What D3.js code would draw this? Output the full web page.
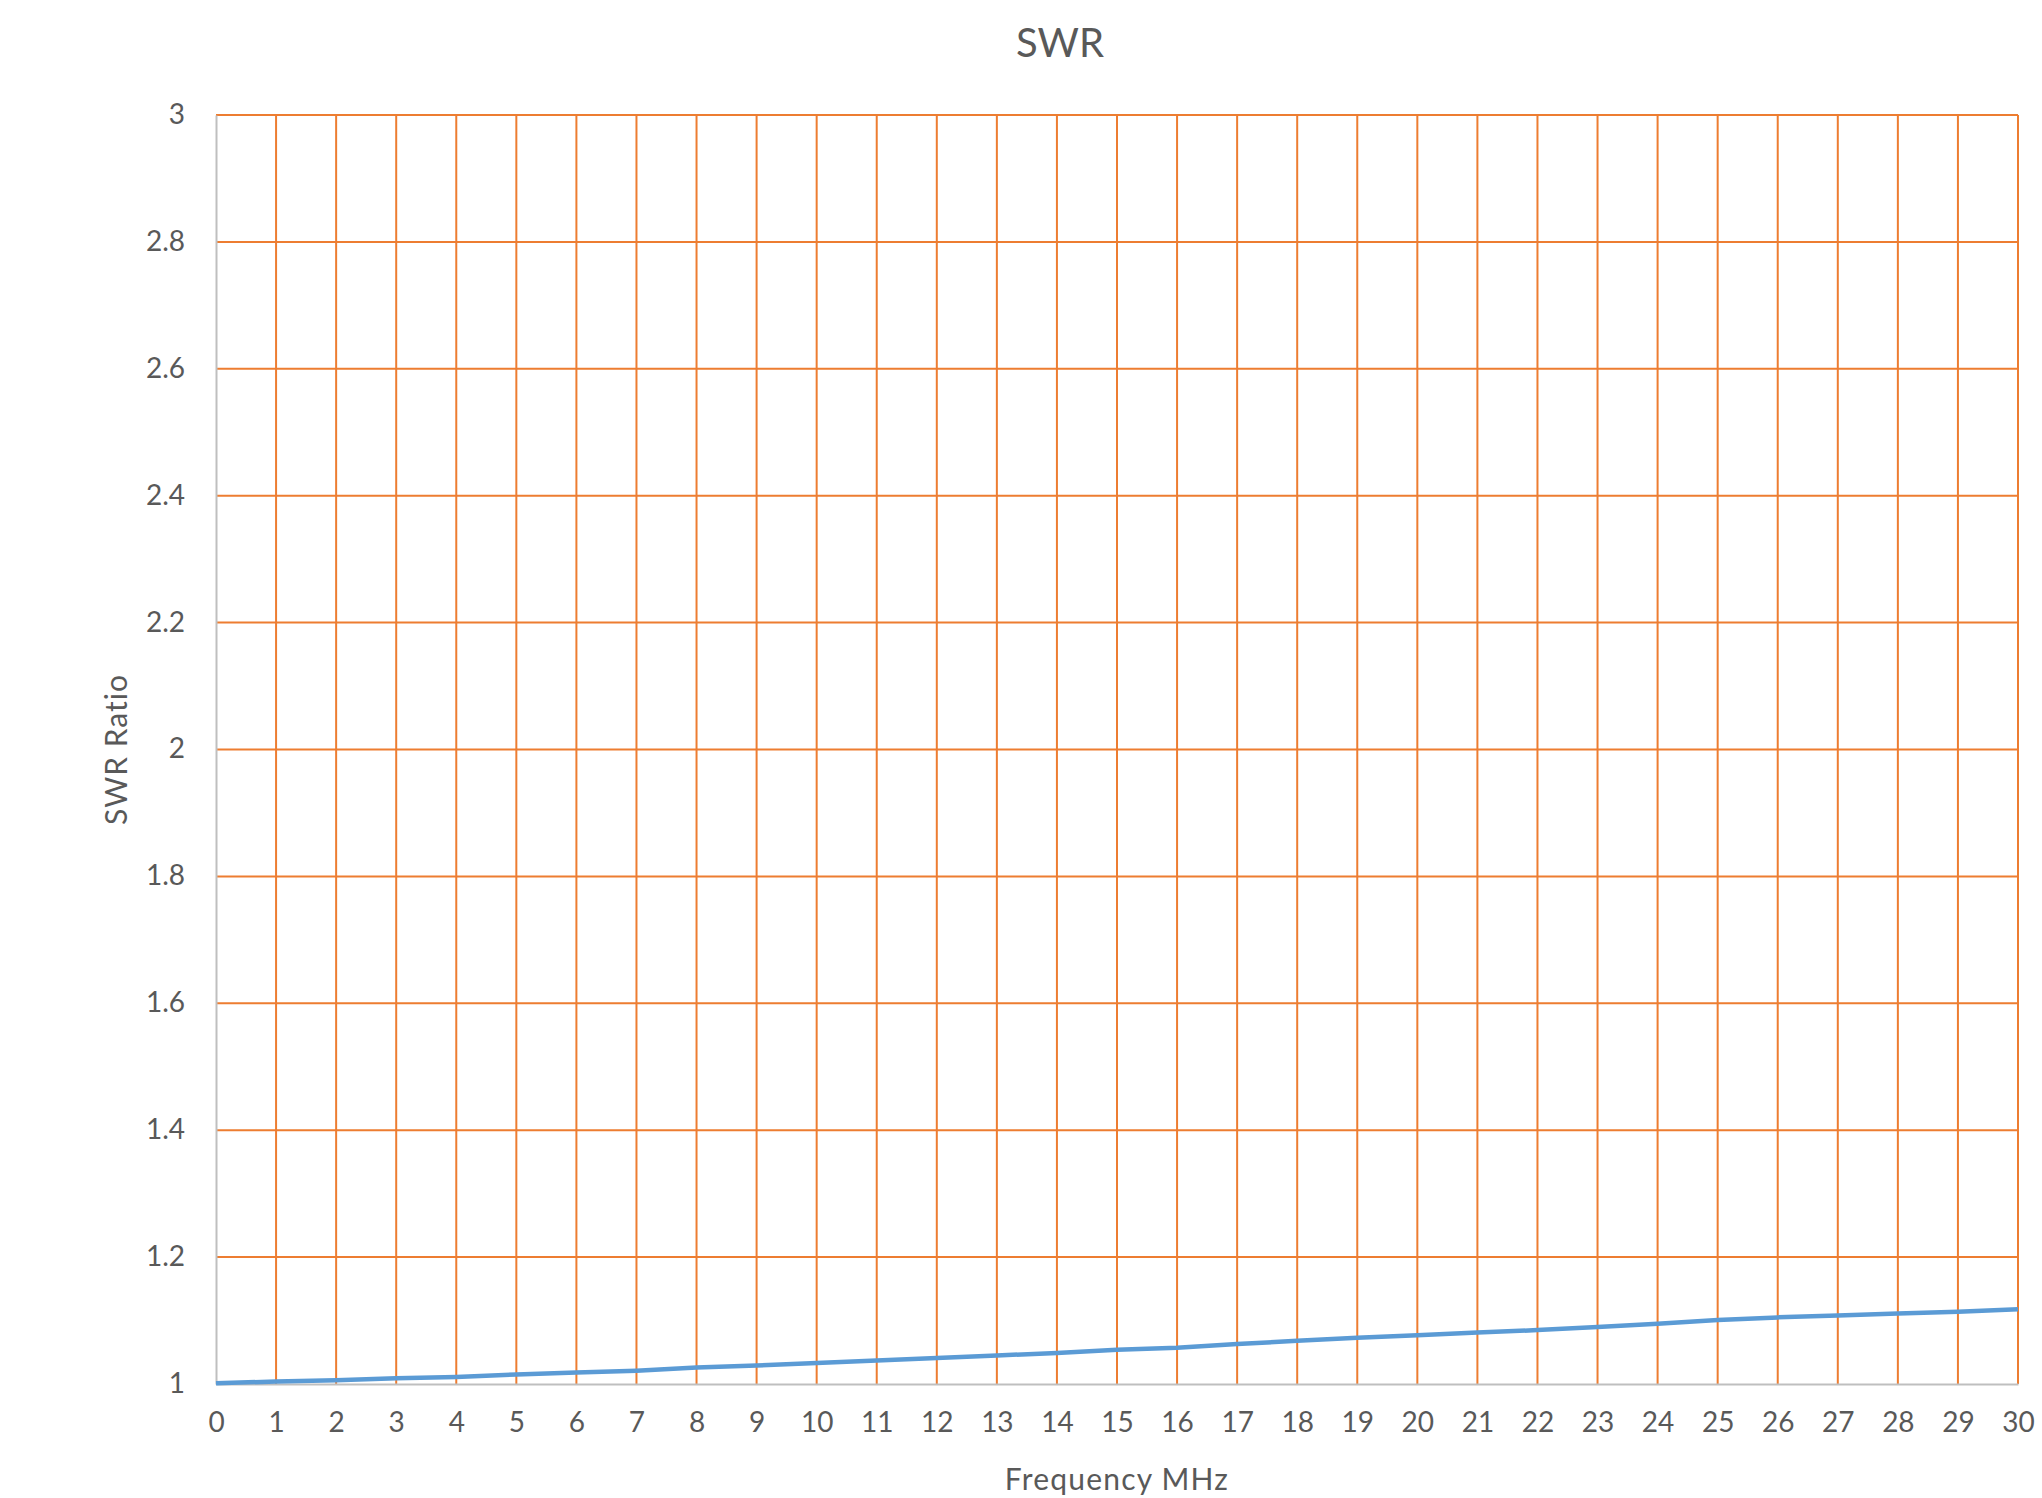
<!DOCTYPE html>
<html>
<head>
<meta charset="utf-8">
<script src="https://cdn.jsdelivr.net/npm/d3@7"></script>
<style>
    body { margin: 0; background: #fff; }
    text { font-family: Lato, "Open Sans", sans-serif; fill: #595959; }
</style>
</head>
<body>
<div id="chart"></div>
<script>
// values
let freqMHz = [0, 1, 2, 3, 4, 5, 6, 7, 8, 9, 10, 11, 12, 13, 14, 15, 16, 17, 18, 19, 20, 21, 22, 23, 24, 25, 26, 27, 28, 29, 30];
let swrRatio = [1.001, 1.004, 1.006, 1.009, 1.011, 1.015, 1.018, 1.021, 1.026, 1.029, 1.033, 1.037, 1.041, 1.045, 1.049, 1.054, 1.057,
    1.063, 1.068, 1.073, 1.077, 1.081, 1.085, 1.090, 1.095, 1.101, 1.105, 1.108, 1.111, 1.114, 1.118];
let xTicks = d3.range(0, 31, 1);
let yTicks = [1, 1.2, 1.4, 1.6, 1.8, 2, 2.2, 2.4, 2.6, 2.8, 3];

let margin = {top: 115, right: 24, bottom: 114, left: 216};
let width = 2042 - margin.left - margin.right;
let height = 1498 - margin.top - margin.bottom;

let svg = d3.select("#chart").append("svg")
    .attr("width", 2042)
    .attr("height", 1498);

let g = svg.append("g")
    .attr("transform", "translate(" + margin.left + "," + margin.top + ")");

let x = d3.scaleLinear().domain([0, 30]).range([0, width]);
let y = d3.scaleLinear().domain([1, 3]).range([height, 0]);

// grid lines
g.selectAll(".hgrid")
    .data(yTicks.filter(d => d > 1))
    .enter()
    .append("line")
    .attr("class", "hgrid")
    .attr("x1", 0).attr("x2", width)
    .attr("y1", d => y(d)).attr("y2", d => y(d))
    .attr("stroke", "#ED7D31")
    .attr("stroke-width", 2);

g.selectAll(".vgrid")
    .data(xTicks.filter(d => d > 0))
    .enter()
    .append("line")
    .attr("class", "vgrid")
    .attr("y1", 0).attr("y2", height)
    .attr("x1", d => x(d)).attr("x2", d => x(d))
    .attr("stroke", "#ED7D31")
    .attr("stroke-width", 2);

// axes
let xAxis = d3.axisBottom(x).tickValues(xTicks).tickSize(0).tickPadding(28).tickFormat(d3.format("d"));
let yAxis = d3.axisLeft(y).tickValues(yTicks).tickSize(0).tickPadding(31).tickFormat(d => d3.format("")(+d.toFixed(1)));

let gx = g.append("g")
    .attr("transform", "translate(0," + height + ")")
    .call(xAxis);
let gy = g.append("g").call(yAxis);

[gx, gy].forEach(function (a) {
    a.select(".domain").attr("stroke", "#BFBFBF").attr("stroke-width", 2);
    a.selectAll("text").style("font-size", "28px").style("fill", "#595959");
});
gy.selectAll("text").attr("dy", "0.3em");

// SWR curve
let line = d3.line()
    .x((d, i) => x(freqMHz[i]))
    .y(d => y(d));

g.append("path")
    .datum(swrRatio)
    .attr("d", line)
    .attr("fill", "none")
    .attr("stroke", "#5B9BD5")
    .attr("stroke-width", 4.5)
    .attr("stroke-linejoin", "round");

// titles
svg.append("text")
    .attr("x", 1060)
    .attr("y", 57)
    .attr("text-anchor", "middle")
    .style("font-size", "40px")
    .text("SWR");

svg.append("text")
    .attr("x", margin.left + width / 2)
    .attr("y", 1490)
    .attr("text-anchor", "middle")
    .style("font-size", "30px")
    .style("letter-spacing", "1.2px")
    .text("Frequency MHz");

svg.append("text")
    .attr("transform", "translate(127," + (margin.top + height / 2) + ") rotate(-90)")
    .attr("text-anchor", "middle")
    .style("font-size", "30px")
    .style("letter-spacing", "1px")
    .text("SWR Ratio");
</script>
</body>
</html>
